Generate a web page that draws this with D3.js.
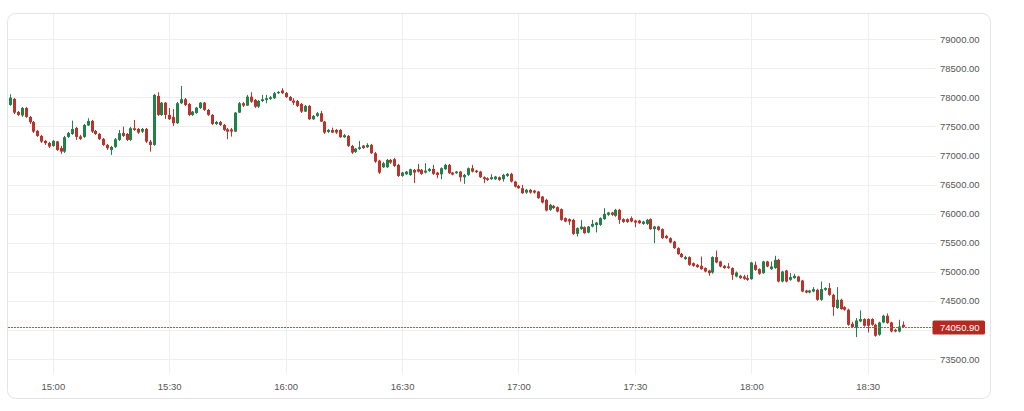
<!DOCTYPE html>
<html>
<head>
<meta charset="utf-8">
<script src="https://cdn.jsdelivr.net/npm/d3@7/dist/d3.min.js"></script>
<style>
    body { margin: 0; background: #fff; }
    text { font-family: "Liberation Sans", Arial, sans-serif; }
</style>
</head>
<body>
<div id="chart-area"></div>
<script>

// one candle per minute, starting 14:49
var startTime = "14:49";

var opens = [
    77871, 77974, 77750, 77690, 77819, 77665, 77578, 77424, 77338, 77252,
    77217, 77166, 77243, 77131, 77068, 77321, 77372, 77475, 77329, 77321,
    77518, 77596, 77424, 77372, 77286, 77183, 77097, 77149, 77269, 77389,
    77372, 77269, 77470, 77458, 77412, 77458, 77240, 77183, 78025, 77699,
    77910, 77699, 77665, 77556, 77900, 77969, 77888, 77699, 77733, 77819,
    77910, 77785, 77699, 77544, 77578, 77527, 77453, 77450, 77412, 77738,
    77900, 77859, 78013, 77957, 77841, 77939, 77957, 77974, 77986, 78072,
    78120, 78077, 78008, 77945, 77939, 77888, 77756, 77854, 77625, 77682,
    77728, 77584, 77407, 77441, 77441, 77441, 77315, 77338, 77166, 77063,
    77114, 77171, 77143, 77183, 77040, 76913, 76799, 76799, 76925, 76937,
    76839, 76650, 76678, 76667, 76753, 76765, 76753, 76707, 76736, 76770,
    76707, 76678, 76765, 76839, 76707, 76696, 76724, 76627, 76667, 76782,
    76741, 76724, 76627, 76610, 76593, 76593, 76627, 76593, 76650, 76685,
    76552, 76478, 76438, 76363, 76410, 76397, 76380, 76295, 76238, 76066,
    76135, 76112, 76078, 75923, 75906, 75894, 75653, 75734, 75768, 75675,
    75779, 75803, 75808, 75906, 75980, 76020, 75963, 76066, 75906, 75906,
    75923, 75882, 75882, 75825, 75825, 75906, 75734, 75779, 75734, 75619,
    75579, 75521, 75407, 75310, 75219, 75253, 75148, 75120, 75103, 75064,
    75022, 74988, 75253, 75178, 75103, 75091, 75064, 74919, 74931, 74919,
    74891, 74874, 75120, 75046, 74977, 75178, 75046, 75064, 75206, 74833,
    75022, 74862, 74891, 74919, 74850, 74678, 74644, 74661, 74690, 74519,
    74690, 74720, 74604, 74376, 74519, 74393, 74347, 74106, 74032, 74146,
    74187, 74187, 74187, 74089, 73917, 74128, 74244, 74128, 74003, 73974,
    74089
];

var highs = [
    78055, 77991, 77768, 77836, 77836, 77682, 77596, 77441, 77355, 77269,
    77235, 77269, 77252, 77166, 77338, 77407, 77601, 77493, 77355, 77544,
    77642, 77613, 77441, 77389, 77303, 77200, 77166, 77303, 77441, 77498,
    77389, 77493, 77613, 77475, 77475, 77475, 77269, 78060, 78089, 77922,
    77922, 77819, 77802, 77922, 78197, 77991, 77905, 77768, 77836, 77922,
    77922, 77802, 77716, 77596, 77596, 77544, 77475, 77475, 77750, 77922,
    77922, 78043, 78089, 77974, 77957, 78043, 78043, 78025, 78094, 78111,
    78158, 78094, 78025, 77986, 77957, 77905, 77871, 77871, 77699, 77750,
    77768, 77596, 77458, 77481, 77458, 77458, 77372, 77355, 77183, 77131,
    77252, 77183, 77212, 77200, 77062, 76925, 76891, 76942, 76942, 76960,
    76857, 76719, 76736, 76774, 76770, 76857, 76770, 76869, 76788, 76839,
    76719, 76796, 76857, 76857, 76719, 76736, 76736, 76685, 76796, 76839,
    76753, 76736, 76642, 76625, 76679, 76650, 76642, 76685, 76702, 76702,
    76564, 76495, 76495, 76426, 76426, 76410, 76392, 76306, 76255, 76169,
    76152, 76126, 76092, 75937, 75920, 75911, 75765, 75894, 75782, 75791,
    75894, 75859, 75937, 76094, 76031, 76031, 76083, 76083, 75920, 75920,
    75952, 75894, 75894, 75877, 75911, 75920, 75791, 75791, 75748, 75636,
    75593, 75533, 75421, 75327, 75275, 75267, 75162, 75137, 75263, 75077,
    75034, 75267, 75366, 75189, 75120, 75149, 75077, 75005, 74948, 74948,
    74948, 75172, 75177, 75060, 75189, 75189, 75177, 75275, 75223, 75017,
    75034, 74977, 74966, 74931, 74862, 74690, 74690, 74737, 74708, 74833,
    74733, 74806, 74622, 74737, 74536, 74407, 74364, 74141, 74204, 74335,
    74201, 74201, 74201, 74106, 74141, 74261, 74284, 74141, 74020, 74175,
    74146
];

var lows = [
    77854, 77716, 77682, 77665, 77647, 77544, 77389, 77321, 77217, 77183,
    77131, 77149, 77080, 77028, 77045, 77303, 77355, 77269, 77269, 77303,
    77510, 77389, 77355, 77269, 77166, 77097, 77011, 77131, 77252, 77321,
    77252, 77252, 77424, 77372, 77389, 77217, 77068, 77166, 77682, 77682,
    77630, 77613, 77510, 77544, 77888, 77853, 77682, 77682, 77716, 77802,
    77768, 77682, 77527, 77527, 77510, 77424, 77281, 77326, 77407, 77733,
    77836, 77854, 77905, 77819, 77819, 77922, 77900, 77957, 77974, 78060,
    78060, 77991, 77939, 77871, 77836, 77733, 77750, 77613, 77613, 77665,
    77578, 77372, 77389, 77389, 77372, 77303, 77303, 77149, 77028, 77045,
    77097, 77114, 77131, 77028, 76874, 76684, 76788, 76788, 76857, 76805,
    76633, 76633, 76667, 76650, 76525, 76710, 76667, 76693, 76719, 76667,
    76610, 76593, 76753, 76685, 76659, 76685, 76552, 76513, 76650, 76710,
    76702, 76616, 76525, 76564, 76581, 76581, 76564, 76552, 76633, 76538,
    76452, 76426, 76340, 76344, 76344, 76344, 76255, 76177, 76040, 76049,
    76083, 76023, 75877, 75851, 75808, 75636, 75607, 75722, 75653, 75662,
    75765, 75677, 75791, 75894, 75963, 75963, 75946, 75825, 75842, 75842,
    75851, 75768, 75825, 75808, 75808, 75722, 75493, 75705, 75567, 75567,
    75490, 75395, 75292, 75241, 75206, 75103, 75086, 75069, 75034, 74991,
    74931, 74966, 75146, 75077, 75052, 75052, 74862, 74905, 74880, 74862,
    74845, 74862, 75017, 74948, 74966, 75077, 75034, 75052, 74819, 74819,
    74819, 74845, 74880, 74819, 74647, 74630, 74630, 74647, 74501, 74501,
    74673, 74587, 74243, 74364, 74347, 74330, 74072, 74038, 73877, 74132,
    74055, 73957, 74072, 73883, 73900, 74115, 74106, 73960, 73960, 73960,
    74038
];

var closes = [
    77996, 77738, 77699, 77819, 77665, 77573, 77412, 77338, 77240, 77212,
    77154, 77252, 77097, 77068, 77315, 77389, 77458, 77321, 77286, 77527,
    77596, 77412, 77372, 77281, 77183, 77126, 77149, 77281, 77384, 77338,
    77269, 77470, 77441, 77395, 77458, 77240, 77183, 78043, 77699, 77910,
    77699, 77625, 77556, 77900, 77969, 77871, 77699, 77756, 77824, 77910,
    77785, 77699, 77544, 77578, 77527, 77441, 77412, 77412, 77738, 77900,
    77859, 78013, 77927, 77841, 77939, 77969, 77986, 78003, 78072, 78094,
    78072, 78008, 77945, 77910, 77854, 77756, 77854, 77625, 77682, 77728,
    77584, 77395, 77441, 77395, 77395, 77315, 77350, 77166, 77051, 77119,
    77143, 77131, 77183, 77040, 76896, 76707, 76868, 76925, 76879, 76822,
    76650, 76707, 76723, 76765, 76707, 76724, 76685, 76741, 76770, 76685,
    76667, 76782, 76839, 76696, 76673, 76724, 76627, 76667, 76782, 76724,
    76714, 76627, 76593, 76581, 76627, 76638, 76581, 76667, 76685, 76552,
    76466, 76438, 76352, 76410, 76363, 76363, 76267, 76191, 76054, 76152,
    76095, 76037, 75894, 75865, 75865, 75653, 75751, 75779, 75665, 75779,
    75825, 75847, 75923, 75997, 76020, 75980, 76066, 75894, 75859, 75859,
    75865, 75847, 75837, 75865, 75894, 75734, 75779, 75722, 75579, 75579,
    75504, 75407, 75304, 75253, 75253, 75120, 75103, 75081, 75046, 75005,
    74977, 75253, 75160, 75092, 75064, 75064, 74949, 74988, 74891, 74880,
    74862, 75160, 75034, 74966, 75178, 75092, 75091, 75206, 74833, 75005,
    74833, 74909, 74931, 74833, 74661, 74644, 74678, 74702, 74519, 74702,
    74720, 74604, 74393, 74519, 74359, 74347, 74089, 74050, 74163, 74187,
    74072, 74072, 74089, 73900, 74128, 74244, 74118, 73974, 73974, 74060,
    74050.9
];

var priceTicks = [73500, 74000, 74500, 75000, 75500, 76000, 76500, 77000, 77500, 78000, 78500, 79000];
var timeTicks = ["15:00", "15:30", "16:00", "16:30", "17:00", "17:30", "18:00", "18:30"];
var lastPrice = 74050.90;

var parseTime = d3.timeParse("%H:%M");
var t0 = parseTime(startTime);

var data = closes.map(function(c, i) {
    return {
        time: d3.timeMinute.offset(t0, i),
        open: opens[i], high: highs[i], low: lows[i], close: c
    };
});

var W = 1024, H = 411;
var card = { left: 7.5, top: 13.5, right: 990.5, bottom: 398.5 };
var plot = { left: 8, right: 936, top: 14, bottom: 374 };

var svg = d3.select("#chart-area")
    .append("svg")
        .attr("width", W)
        .attr("height", H);

// Card
svg.append("rect")
    .attr("x", card.left)
    .attr("y", card.top)
    .attr("width", card.right - card.left)
    .attr("height", card.bottom - card.top)
    .attr("rx", 8)
    .attr("fill", "#fff")
    .attr("stroke", "#e4e4e4");

// X Scale
var x = d3.scaleTime()
    .domain([parseTime("15:00"), parseTime("18:30")])
    .range([52.8, 867.7]);

// Y Scale
var y = d3.scaleLinear()
    .domain([73500, 79000])
    .range([359, 39.3]);

var g = svg.append("g");

// Grid
g.append("g")
    .attr("class", "grid")
    .selectAll("line.h")
    .data(priceTicks)
    .enter().append("line")
        .attr("x1", plot.left)
        .attr("x2", plot.right)
        .attr("y1", function(d){ return Math.round(y(d)) + 0.5; })
        .attr("y2", function(d){ return Math.round(y(d)) + 0.5; })
        .attr("stroke", "#eeeeee");

g.append("g")
    .attr("class", "grid")
    .selectAll("line.v")
    .data(timeTicks)
    .enter().append("line")
        .attr("x1", function(d){ return Math.round(x(parseTime(d))) + 0.5; })
        .attr("x2", function(d){ return Math.round(x(parseTime(d))) + 0.5; })
        .attr("y1", plot.top)
        .attr("y2", plot.bottom)
        .attr("stroke", "#eeeeee");

// X Axis
var xAxisCall = d3.axisBottom(x)
    .tickValues(timeTicks.map(parseTime))
    .tickFormat(d3.timeFormat("%H:%M"))
    .tickSize(0)
    .tickPadding(0);
var xAxis = g.append("g")
    .attr("class", "x axis")
    .attr("font-family", null)
    .attr("transform", "translate(0,386.5)")
    .call(xAxisCall);
xAxis.select(".domain").remove();
xAxis.selectAll("text")
    .attr("dy", "0.35em")
    .attr("y", 0)
    .attr("font-size", "9.5px")
    .attr("fill", "#555");

// Y Axis (the label under the last price box is hidden, like the reference)
var yAxisCall = d3.axisRight(y)
    .tickValues(priceTicks.filter(function(d){ return Math.abs(y(d) - y(lastPrice)) > 10; }))
    .tickFormat(d3.format(".2f"))
    .tickSize(0)
    .tickPadding(0);
var yAxis = g.append("g")
    .attr("class", "y axis")
    .attr("font-family", null)
    .attr("transform", "translate(940,0)")
    .call(yAxisCall);
yAxis.select(".domain").remove();
yAxis.selectAll("text")
    .attr("font-size", "9.5px")
    .attr("fill", "#555");

// Candles
var bw = 3;
var up = "#22804a", down = "#b9342c";

var candles = g.selectAll("g.candle")
    .data(data)
    .enter().append("g")
        .attr("class", "candle");

candles.append("line")
    .attr("x1", function(d){ return Math.round(x(d.time)) + 0.5; })
    .attr("x2", function(d){ return Math.round(x(d.time)) + 0.5; })
    .attr("y1", function(d){ return y(d.high); })
    .attr("y2", function(d){ return y(d.low); })
    .attr("stroke", function(d){ return d.close >= d.open ? up : down; })
    .attr("stroke-width", 1);

candles.append("rect")
    .attr("x", function(d){ return Math.round(x(d.time)) + 0.5 - bw / 2; })
    .attr("y", function(d){ return y(Math.max(d.open, d.close)); })
    .attr("width", bw)
    .attr("height", function(d){ return Math.max(1, Math.abs(y(d.open) - y(d.close))); })
    .attr("fill", function(d){ return d.close >= d.open ? up : down; });

// Last price line + label
var yl = Math.round(y(lastPrice)) + 0.5;
g.append("line")
    .attr("x1", plot.left)
    .attr("x2", 933)
    .attr("y1", yl)
    .attr("y2", yl)
    .attr("stroke", "#e0463c")
    .attr("stroke-width", 1)
    .attr("stroke-dasharray", "2,1");

g.append("rect")
    .attr("x", 932.5)
    .attr("y", yl - 7)
    .attr("width", 52.5)
    .attr("height", 14)
    .attr("rx", 1.5)
    .attr("fill", "#b42a22");

g.append("text")
    .attr("x", 940)
    .attr("y", yl)
    .attr("dy", "0.35em")
    .attr("font-size", "9.5px")
    .attr("fill", "#fff")
    .text(d3.format(".2f")(lastPrice));

</script>
</body>
</html>
